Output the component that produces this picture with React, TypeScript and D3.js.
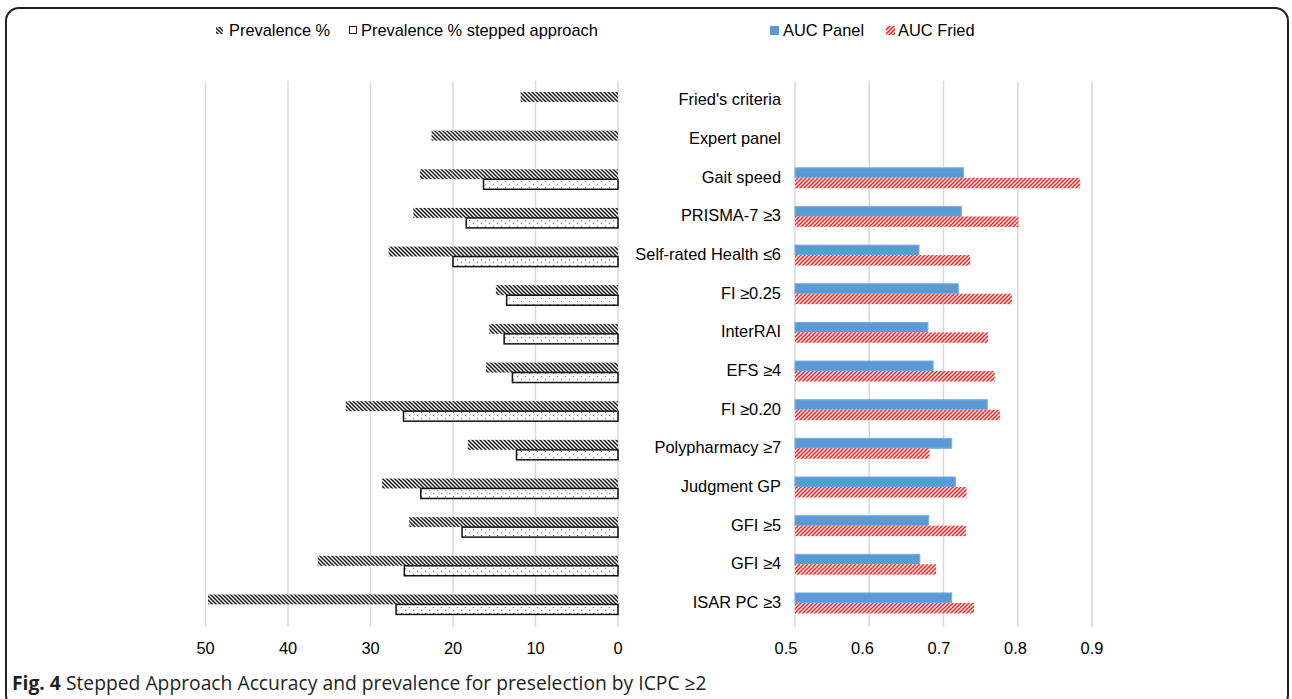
import React from "react";
import * as d3 from "d3";

// Screening instruments, top to bottom
const categories = [
  "Fried's criteria",
  "Expert panel",
  "Gait speed",
  "PRISMA-7 ≥3",
  "Self-rated Health ≤6",
  "FI ≥0.25",
  "InterRAI",
  "EFS ≥4",
  "FI ≥0.20",
  "Polypharmacy ≥7",
  "Judgment GP",
  "GFI ≥5",
  "GFI ≥4",
  "ISAR PC ≥3",
];

// Prevalence (%) — left panel
const prevalence: (number | null)[] = [11.8, 22.6, 24.0, 24.8, 27.8, 14.8, 15.6, 16.0, 33.0, 18.2, 28.6, 25.3, 36.4, 49.7];
const prevalenceStepped: (number | null)[] = [null, null, 16.3, 18.4, 20.0, 13.5, 13.8, 12.8, 26.0, 12.3, 23.9, 18.9, 25.9, 26.9];

// Area under the curve — right panel
const aucPanel: (number | null)[] = [null, null, 0.727, 0.724, 0.667, 0.72, 0.679, 0.686, 0.759, 0.711, 0.716, 0.68, 0.668, 0.711];
const aucFried: (number | null)[] = [null, null, 0.884, 0.801, 0.736, 0.792, 0.76, 0.769, 0.776, 0.681, 0.731, 0.73, 0.69, 0.741];

const prevalenceTicks = [50, 40, 30, 20, 10, 0];
const aucTicks = [0.5, 0.6, 0.7, 0.8, 0.9];

const W = 1292;
const H = 699;
const FONT = "'Liberation Sans', Arial, sans-serif";

export default function App() {
  const innerPad = 0.483;
  const step = 38.65;
  const y = d3
    .scaleBand<string>()
    .domain(categories)
    .range([82.65, 82.65 + step * categories.length])
    .paddingInner(innerPad)
    .paddingOuter(innerPad / 2);
  const bw = y.bandwidth();
  const half = bw / 2;

  const xLeft = d3.scaleLinear().domain([0, 50]).range([618, 205.5]);
  const xRight = d3.scaleLinear().domain([0.5, 0.9]).range([795, 1092]);
  // the AUC tick labels sit on their own slightly wider spacing
  const xRightLabel = d3.scaleLinear().domain([0.5, 0.9]).range([786, 1092]);

  const gridTop = 81;
  const gridBottom = 627;

  return (
    <svg
      width={W}
      height={H}
      style={{ position: "absolute", left: 0, top: 0, background: "#fff" }}
      fontFamily={FONT}
    >
      <defs>
        <pattern id="hatchDark" patternUnits="userSpaceOnUse" width={4} height={4}>
          <rect width={4} height={4} fill="#fff" />
          <path d="M-1,-1 L5,5 M-1,3 L1,5 M3,-1 L5,1" stroke="#1a1a1a" strokeWidth={1.5} />
        </pattern>
        <pattern id="dots" patternUnits="userSpaceOnUse" width={8} height={6}>
          <rect width={8} height={6} fill="#fff" />
          <rect x={1} y={1} width={1.2} height={1.2} fill="#777" />
          <rect x={5} y={4} width={1.2} height={1.2} fill="#888" />
        </pattern>
        <pattern id="hatchRed" patternUnits="userSpaceOnUse" width={4} height={4}>
          <rect width={4} height={4} fill="#fff" />
          <path d="M-1,5 L5,-1 M-1,1 L1,-1 M3,5 L5,3" stroke="#ff1a1a" strokeWidth={1.5} />
        </pattern>
      </defs>

      {/* frame */}
      <rect x={6} y={8} width={1282} height={700} rx={13} ry={13} fill="none" stroke="#222" strokeWidth={2} />

      {/* legend */}
      <g fontSize={16.4} fill="#000">
        <rect x={216} y={27} width={7} height={7} fill="url(#hatchDark)" />
        <text x={229} y={36}>Prevalence %</text>
        <rect x={349.5} y={26.5} width={7} height={7} fill="#fff" stroke="#222" strokeWidth={1} />
        <text x={361} y={36}>Prevalence % stepped approach</text>
        <rect x={770} y={26} width={9} height={9} fill="#5b9bd5" />
        <text x={783} y={36}>AUC Panel</text>
        <rect x={886} y={26} width={9} height={9} fill="url(#hatchRed)" />
        <text x={898} y={36}>AUC Fried</text>
      </g>

      {/* gridlines */}
      <g stroke="#d9d9d9" strokeWidth={1.5}>
        {prevalenceTicks.map((t) => (
          <line key={"gl" + t} x1={xLeft(t)} x2={xLeft(t)} y1={gridTop} y2={gridBottom} />
        ))}
        {aucTicks.map((t) => (
          <line key={"gr" + t} x1={xRight(t)} x2={xRight(t)} y1={gridTop} y2={gridBottom} />
        ))}
      </g>

      {/* prevalence bars */}
      <g>
        {categories.map((c, i) => {
          const y0 = y(c)!;
          const p = prevalence[i];
          const s = prevalenceStepped[i];
          return (
            <g key={"p" + c}>
              {p != null && (
                <rect x={xLeft(p)} y={y0} width={xLeft(0) - xLeft(p)} height={half} fill="url(#hatchDark)" />
              )}
              {s != null && (
                <rect
                  x={xLeft(s)}
                  y={y0 + half}
                  width={xLeft(0) - xLeft(s)}
                  height={half}
                  fill="url(#dots)"
                  stroke="#111"
                  strokeWidth={1.5}
                />
              )}
            </g>
          );
        })}
      </g>

      {/* AUC bars */}
      <g>
        {categories.map((c, i) => {
          const y0 = y(c)! - 1.5;
          const a = aucPanel[i];
          const f = aucFried[i];
          return (
            <g key={"a" + c}>
              {a != null && (
                <rect
                  x={xRight(0.5)}
                  y={y0}
                  width={xRight(a) - xRight(0.5)}
                  height={half}
                  fill="#5b9bd5"
                  stroke="#79aee0"
                  strokeWidth={1}
                />
              )}
              {f != null && (
                <rect x={xRight(0.5)} y={y0 + half} width={xRight(f) - xRight(0.5)} height={half + 0.5} fill="url(#hatchRed)" />
              )}
            </g>
          );
        })}
      </g>

      {/* category labels */}
      <g fontSize={16.4} fill="#000" textAnchor="end">
        {categories.map((c) => (
          <text key={"l" + c} x={781} y={y(c)! + half + 3.5}>
            {c}
          </text>
        ))}
      </g>

      {/* tick labels */}
      <g fontSize={16.4} fill="#000" textAnchor="middle">
        {prevalenceTicks.map((t) => (
          <text key={"tl" + t} x={xLeft(t)} y={654}>
            {t}
          </text>
        ))}
        {aucTicks.map((t) => (
          <text key={"tr" + t} x={xRightLabel(t)} y={654}>
            {t.toFixed(1)}
          </text>
        ))}
      </g>

      {/* caption */}
      <text x={12} y={690} fontFamily="'Open Sans', 'Noto Sans', sans-serif" fontSize={19.3} fill="#231f20">
        <tspan fontWeight="bold">Fig. 4</tspan>
        <tspan> Stepped Approach Accuracy and prevalence for preselection by ICPC ≥2</tspan>
      </text>
    </svg>
  );
}
